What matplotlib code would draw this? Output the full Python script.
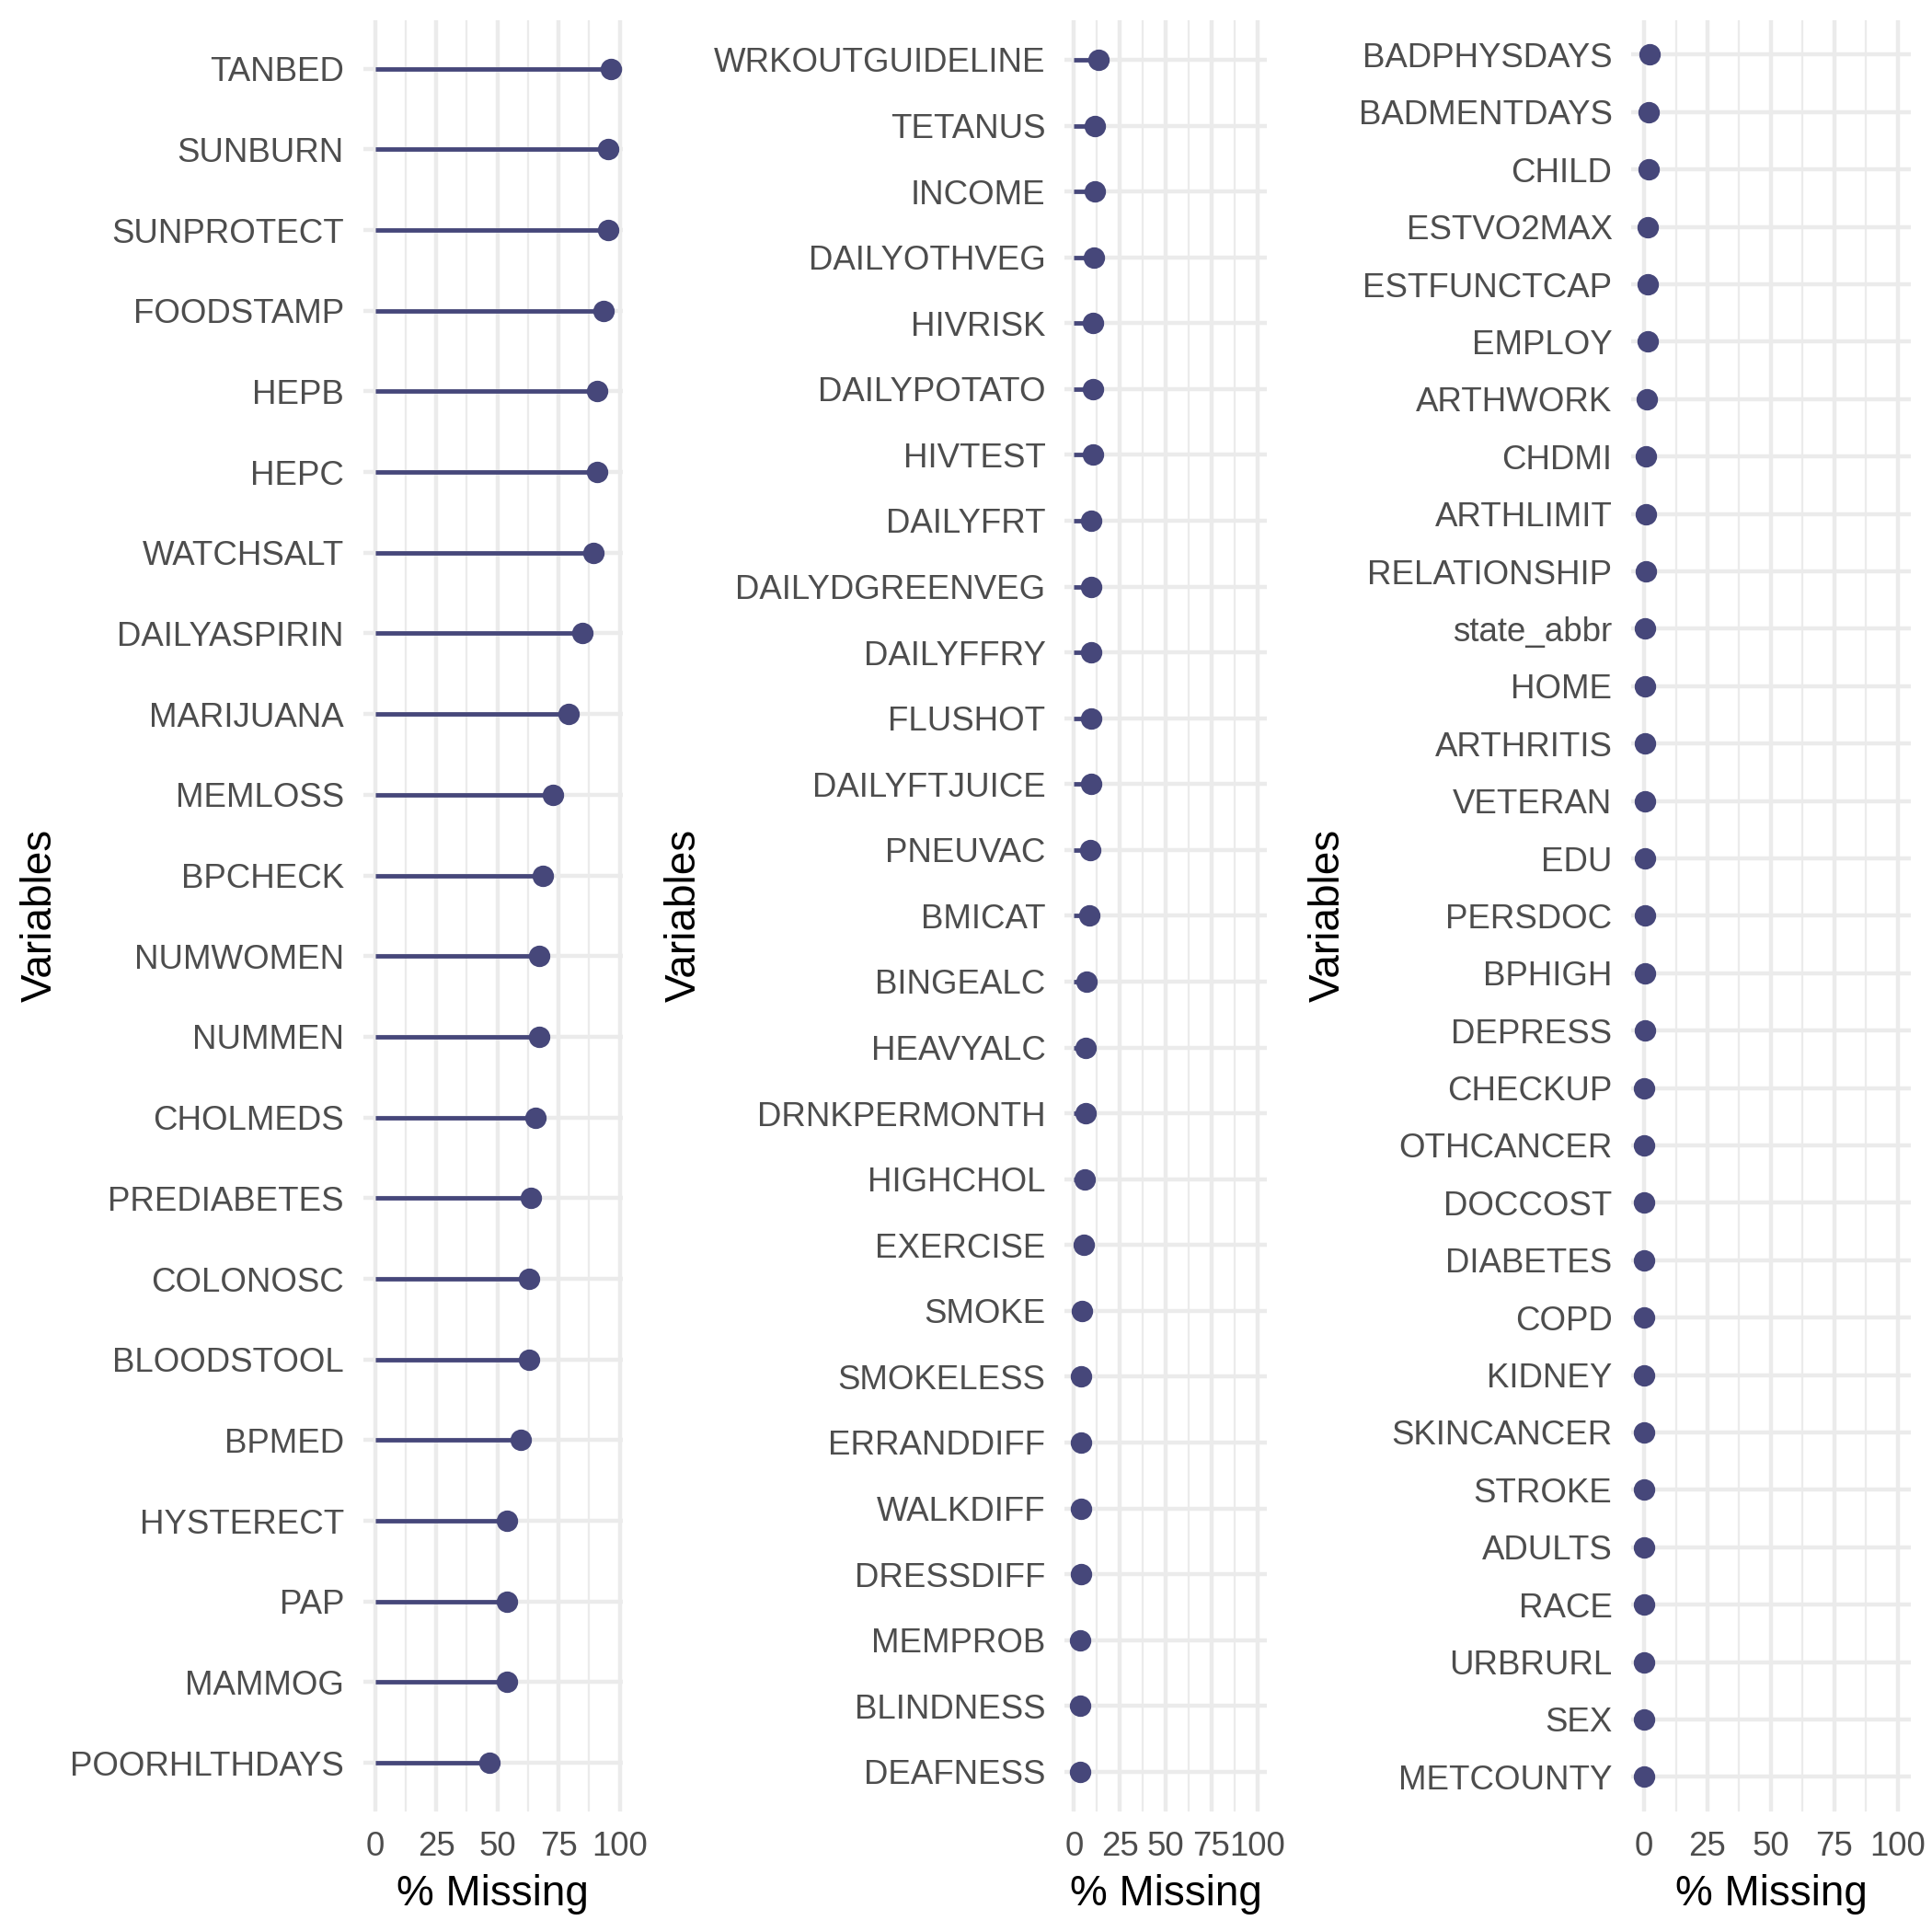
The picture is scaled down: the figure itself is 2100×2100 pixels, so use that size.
import matplotlib
matplotlib.use("Agg")
import matplotlib.pyplot as plt
from matplotlib.ticker import MultipleLocator

plt.rcParams['font.family'] = ['Liberation Sans', 'DejaVu Sans']

# panel 1: variables with most missing values
vars1 = ['TANBED', 'SUNBURN', 'SUNPROTECT', 'FOODSTAMP', 'HEPB', 'HEPC', 'WATCHSALT',
         'DAILYASPIRIN', 'MARIJUANA', 'MEMLOSS', 'BPCHECK', 'NUMWOMEN', 'NUMMEN',
         'CHOLMEDS', 'PREDIABETES', 'COLONOSC', 'BLOODSTOOL', 'BPMED', 'HYSTERECT',
         'PAP', 'MAMMOG', 'POORHLTHDAYS']
miss1 = [96.3, 95.4, 95.3, 93.3, 90.8, 90.8, 89.4, 84.8, 79.0, 72.7, 68.5, 67.0, 67.0,
         65.5, 63.5, 62.8, 62.8, 59.6, 53.8, 53.8, 53.8, 46.8]

# panel 2
vars2 = ['WRKOUTGUIDELINE', 'TETANUS', 'INCOME', 'DAILYOTHVEG', 'HIVRISK', 'DAILYPOTATO',
         'HIVTEST', 'DAILYFRT', 'DAILYDGREENVEG', 'DAILYFFRY', 'FLUSHOT', 'DAILYFTJUICE',
         'PNEUVAC', 'BMICAT', 'BINGEALC', 'HEAVYALC', 'DRNKPERMONTH', 'HIGHCHOL',
         'EXERCISE', 'SMOKE', 'SMOKELESS', 'ERRANDDIFF', 'WALKDIFF', 'DRESSDIFF',
         'MEMPROB', 'BLINDNESS', 'DEAFNESS']
miss2 = [13.3, 11.3, 11.3, 10.7, 10.5, 10.2, 10.2, 9.5, 9.3, 9.3, 9.2, 9.2, 8.8, 8.5,
         6.7, 6.5, 6.5, 5.8, 5.3, 4.3, 4.0, 3.8, 3.7, 3.7, 3.3, 3.3, 3.2]

# panel 3
vars3 = ['BADPHYSDAYS', 'BADMENTDAYS', 'CHILD', 'ESTVO2MAX', 'ESTFUNCTCAP', 'EMPLOY',
         'ARTHWORK', 'CHDMI', 'ARTHLIMIT', 'RELATIONSHIP', 'state_abbr', 'HOME',
         'ARTHRITIS', 'VETERAN', 'EDU', 'PERSDOC', 'BPHIGH', 'DEPRESS', 'CHECKUP',
         'OTHCANCER', 'DOCCOST', 'DIABETES', 'COPD', 'KIDNEY', 'SKINCANCER', 'STROKE',
         'ADULTS', 'RACE', 'URBRURL', 'SEX', 'METCOUNTY']
miss3 = [2.3, 1.95, 1.8, 1.46, 1.46, 1.34, 1.1, 0.85, 0.72, 0.6, 0.48, 0.48, 0.36, 0.36,
         0.24, 0.2, 0.18, 0.17, 0.15, 0.14, 0.12, 0.1, 0.09, 0.08, 0.07, 0.05, 0.04,
         0.03, 0.02, 0.01, 0.0]

col = '#46477a'
grid_col = '#ebebeb'

fig = plt.figure(figsize=(7, 7), dpi=300)

panels = [
    (vars1, miss1, [0.188, 0.0625, 0.1342, 0.927], (-4.8, 101.1)),
    (vars2, miss2, [0.5511, 0.0625, 0.1045, 0.927], (-5, 105)),
    (vars3, miss3, [0.8444, 0.0625, 0.1445, 0.927], (-5, 105)),
]

for i, (names, vals, rect, xlim) in enumerate(panels):
    ax = fig.add_axes(rect)
    ax.hlines(names, 0, vals, color=col, linewidth=1.15, zorder=3)
    ax.plot(vals, names, 'o', color=col, markersize=4.6, zorder=4)
    n = len(names)
    ax.set_ylim(n - 0.4, -0.6)
    ax.set_xlim(*xlim)
    ax.xaxis.set_major_locator(MultipleLocator(25))
    ax.xaxis.set_minor_locator(MultipleLocator(12.5))
    ax.set_xticks([0, 25, 50, 75, 100])
    ax.grid(which='major', axis='both', color=grid_col, linewidth=1.07, zorder=0)
    ax.grid(which='minor', axis='x', color=grid_col, linewidth=0.53, zorder=0)
    ax.set_axisbelow(True)
    for s in ax.spines.values():
        s.set_visible(False)
    ax.tick_params(which='both', length=0, labelsize=8.8, labelcolor='#4d4d4d', pad=5)
    ax.set_xlabel('% Missing', fontsize=11, labelpad=3)
    ax.set_ylabel('Variables', fontsize=11)
    ax.yaxis.set_label_coords((0.0312 + i * 0.3333 - rect[0]) / rect[2], 0.5)

fig.savefig('out.png', dpi=300, facecolor='white')
